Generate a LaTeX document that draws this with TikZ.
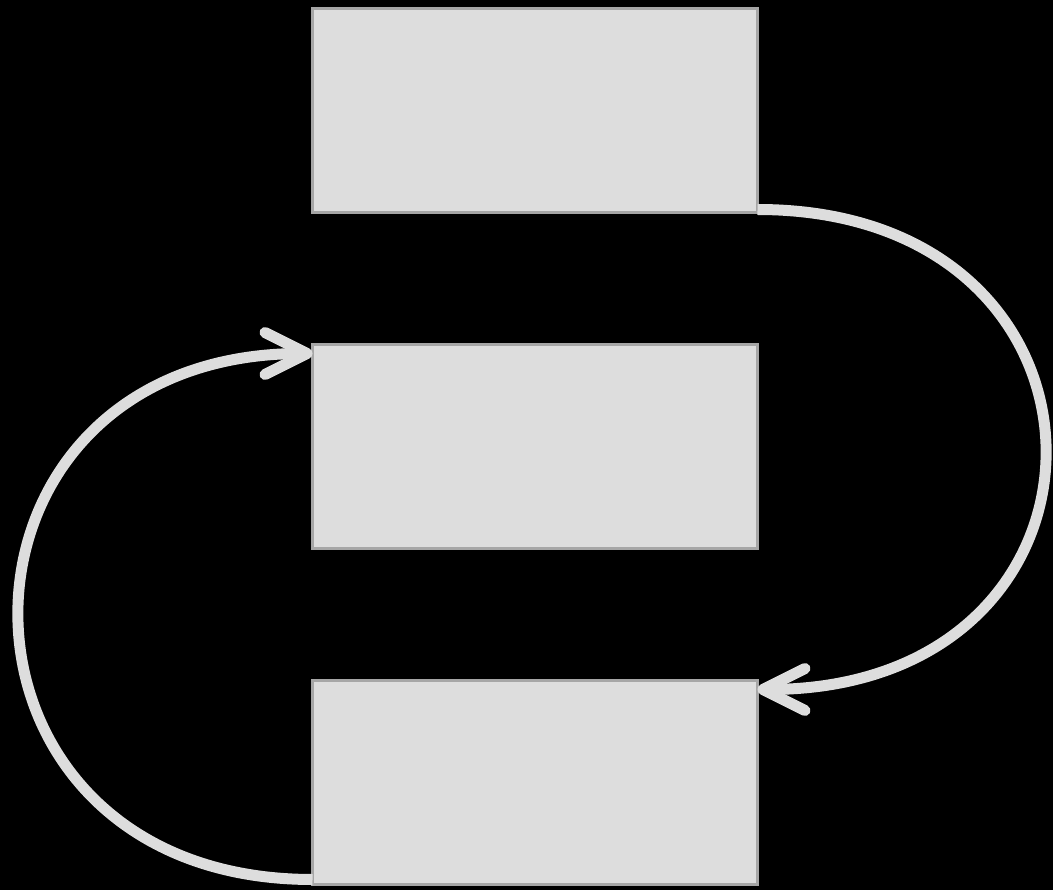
\documentclass[tikz,border=0pt]{standalone}
\usetikzlibrary{arrows.meta,calc}
\definecolor{boxfill}{HTML}{DDDDDD}
\definecolor{boxedge}{HTML}{A6A6A6}
\definecolor{linkcol}{HTML}{DDDDDD}
\tikzset{
  stagebox/.style={draw=boxedge, fill=boxfill, line width=3pt, inner sep=0pt, outer sep=0pt,
    minimum width=445pt, minimum height=204pt},
  link/.style={draw=linkcol, line width=11pt,
    -{Straight Barb[length=42pt,width=42pt,round]}}
}
\begin{document}
\begin{tikzpicture}[x=1pt,y=-1pt]
\fill[black] (0,0) rectangle (1053,890);
\useasboundingbox (0,0) rectangle (1053,890);
\node[stagebox] (b1) at (535,110.5) {};
\node[stagebox] (b2) at (535,446.5) {};
\node[stagebox] (b3) at (535,782.5) {};
\coordinate (s1) at ($(b1.south east)+(0,-3)$);
\coordinate (t1) at ($(b3.north east)+(0,9)$);
\coordinate (s2) at ($(b3.south west)+(0,-5)$);
\coordinate (t2) at ($(b2.north west)+(0,9)$);
\draw[link] (s1) .. controls ($(s1)+(383,0)$) and ($(t1)+(383,0)$) .. (t1);
\draw[link] (s2) .. controls ($(s2)+(-391,0)$) and ($(t2)+(-391,0)$) .. (t2);
\end{tikzpicture}
\end{document}
